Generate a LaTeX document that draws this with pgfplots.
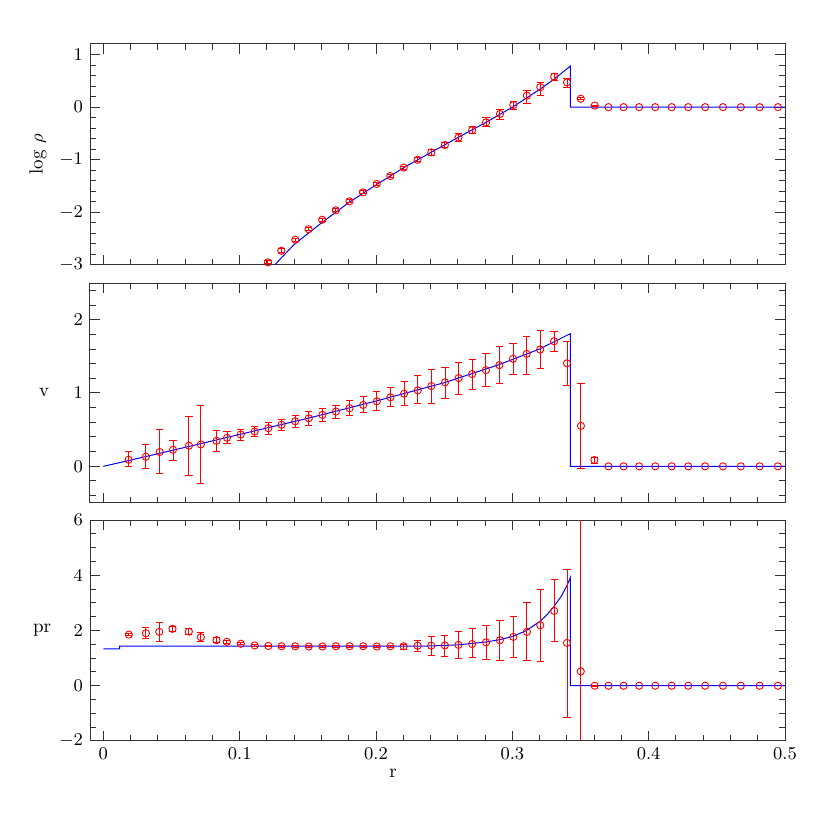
\documentclass[border=0pt]{standalone}
\usepackage{pgfplots}
\pgfplotsset{compat=1.18}
\pgfplotsset{
  panel/.style={
    scale only axis, width=347.5pt,
    xmin=-0.0098, xmax=0.5,
    xtick={0,0.1,0.2,0.3,0.4,0.5},
    minor xtick={0.02,0.04,0.06,0.08,0.12,0.14,0.16,0.18,0.22,0.24,0.26,0.28,0.32,0.34,0.36,0.38,0.42,0.44,0.46,0.48},
    tick align=inside, major tick length=5pt, minor tick length=2.8pt,
    every tick/.style={black!80, line width=0.5pt},
    axis line style={black!80, line width=0.5pt},
    tick label style={font=\fontsize{9}{10}\selectfont},
    label style={font=\fontsize{9.5}{11}\selectfont},
    anchor=south west,
  },
  errpts/.style={only marks, red, mark=o, mark size=1.8pt, mark options={line width=0.45pt},
    error bars/.cd, y dir=both, y explicit,
    error bar style={red, line width=0.5pt},
    error mark options={rotate=90, red, mark size=1.8pt, line width=0.5pt}},
  pts/.style={only marks, red, mark=o, mark size=1.8pt, mark options={line width=0.45pt}},
  model/.style={blue, line width=0.5pt, mark=none},
}
\begin{document}
\begin{tikzpicture}
\useasboundingbox (-45pt,-44.5pt) rectangle (370pt,370.5pt);
% ---------------- log rho ----------------
\begin{axis}[panel, at={(0pt,238pt)}, height=110.5pt,
  ymin=-3, ymax=1.2, ytick={-3,-2,-1,0,1},
  minor ytick={-2.8,-2.6,-2.4,-2.2,-1.8,-1.6,-1.4,-1.2,-0.8,-0.6,-0.4,-0.2,0.2,0.4,0.6,0.8},
  xticklabel=\empty,
  ylabel={log $\rho$},
  ylabel style={at={(axis description cs:-0.075,0.5)}, anchor=center}]
\addplot[model] coordinates {
(0.1256,-3.00) (0.1403,-2.60) (0.1605,-2.19) (0.1805,-1.805) (0.2005,-1.47)
(0.2203,-1.15) (0.2403,-0.86) (0.2603,-0.575) (0.2806,-0.29) (0.3001,0.00)
(0.3197,0.33) (0.3300,0.52) (0.3426,0.78) (0.3426,0) (0.5,0)};
\addplot[errpts] table[x index=0, y index=1, y error plus index=2, y error minus index=3] {
0.1207 -2.95 0.03 0.03
0.1305 -2.73 0.04 0.04
0.1408 -2.52 0.03 0.03
0.1505 -2.32 0.03 0.03
0.1605 -2.14 0.03 0.03
0.1705 -1.96 0.03 0.03
0.1805 -1.79 0.03 0.03
0.1905 -1.62 0.03 0.03
0.2005 -1.46 0.03 0.03
0.2105 -1.31 0.03 0.03
0.2203 -1.15 0.03 0.03
0.2305 -1.00 0.04 0.04
0.2405 -0.86 0.05 0.05
0.2505 -0.72 0.05 0.05
0.2605 -0.58 0.07 0.07
0.2705 -0.44 0.07 0.07
0.2807 -0.29 0.09 0.08
0.2909 -0.13 0.09 0.10
0.3007 0.04 0.07 0.09
0.3107 0.22 0.10 0.16
0.3205 0.38 0.09 0.15
0.3307 0.58 0.05 0.07
0.3401 0.47 0.08 0.09
0.3502 0.16 0.02 0.02
0.3604 0.03 0.01 0.01
};
\addplot[pts] coordinates {(0.3705,0) (0.3816,0) (0.3930,0) (0.4048,0) (0.4169,0) (0.4290,0) (0.4414,0) (0.4545,0) (0.4676,0) (0.4814,0) (0.4948,0)};
\end{axis}
% ---------------- v ----------------
\begin{axis}[panel, at={(0pt,119pt)}, height=110pt,
  ymin=-0.5, ymax=2.5, ytick={0,1,2},
  minor ytick={-0.4,-0.2,0.2,0.4,0.6,0.8,1.2,1.4,1.6,1.8,2.2,2.4},
  xticklabel=\empty,
  ylabel={v},
  ylabel style={at={(axis description cs:-0.066,0.5)}, anchor=center, rotate=-90}]
\addplot[model] coordinates {
(0,0) (0.02,0.085) (0.05,0.215) (0.10,0.435) (0.15,0.655) (0.20,0.89)
(0.25,1.14) (0.29,1.385) (0.32,1.60) (0.3426,1.81) (0.3426,0) (0.5,0)};
\addplot[errpts] table[x index=0, y index=1, y error plus index=2, y error minus index=3] {
0.0185 0.090 0.114 0.099
0.0312 0.131 0.172 0.167
0.0413 0.195 0.303 0.299
0.0511 0.226 0.131 0.140
0.0628 0.281 0.402 0.412
0.0715 0.299 0.529 0.534
0.0830 0.348 0.141 0.140
0.0907 0.389 0.086 0.081
0.1008 0.434 0.073 0.077
0.1110 0.475 0.068 0.068
0.1210 0.520 0.077 0.081
0.1307 0.566 0.072 0.077
0.1407 0.615 0.082 0.086
0.1507 0.656 0.091 0.095
0.1607 0.701 0.091 0.090
0.1706 0.747 0.081 0.095
0.1806 0.792 0.104 0.104
0.1906 0.837 0.109 0.104
0.2006 0.887 0.136 0.131
0.2106 0.941 0.131 0.127
0.2206 0.991 0.167 0.163
0.2306 1.036 0.199 0.185
0.2406 1.095 0.226 0.235
0.2506 1.145 0.203 0.217
0.2606 1.204 0.212 0.222
0.2705 1.258 0.199 0.208
0.2806 1.312 0.222 0.217
0.2905 1.380 0.258 0.249
0.3005 1.466 0.208 0.217
0.3105 1.534 0.240 0.285
0.3204 1.593 0.258 0.258
0.3306 1.706 0.127 0.145
0.3401 1.405 0.295 0.300
0.3503 0.552 0.575 0.588
0.3602 0.086 0.041 0.041
};
\addplot[pts] coordinates {(0.3705,0) (0.3816,0) (0.3930,0) (0.4048,0) (0.4169,0) (0.4290,0) (0.4414,0) (0.4545,0) (0.4676,0) (0.4814,0) (0.4948,0)};
\end{axis}
% ---------------- pr ----------------
\begin{axis}[panel, at={(0pt,0pt)}, height=110.5pt,
  ymin=-2, ymax=6, ytick={-2,0,2,4,6},
  minor ytick={-1.5,-1,-0.5,0.5,1,1.5,2.5,3,3.5,4.5,5,5.5},
  ylabel={pr},
  ylabel style={at={(axis description cs:-0.069,0.5)}, anchor=center, rotate=-90},
  xlabel={r},
  xlabel style={at={(axis description cs:0.436,-0.145)}, anchor=center}]
\addplot[model] coordinates {
(0,1.335) (0.012,1.335) (0.012,1.43) (0.22,1.43) (0.24,1.44) (0.25,1.46)
(0.26,1.48) (0.27,1.53) (0.28,1.58) (0.29,1.66) (0.30,1.78) (0.31,1.99)
(0.32,2.32) (0.325,2.55) (0.33,2.83) (0.336,3.25) (0.34,3.62) (0.3426,3.92)
(0.3426,0) (0.5,0)};
\addplot[errpts] table[x index=0, y index=1, y error plus index=2, y error minus index=3] {
0.0187 1.85 0.04 0.04
0.0312 1.90 0.20 0.20
0.0410 1.95 0.33 0.34
0.0507 2.06 0.10 0.11
0.0627 1.96 0.11 0.12
0.0715 1.76 0.17 0.17
0.0830 1.65 0.08 0.08
0.0905 1.59 0.05 0.05
0.1008 1.52 0.04 0.04
0.1110 1.46 0.03 0.03
0.1210 1.44 0.03 0.03
0.1307 1.43 0.03 0.03
0.1407 1.43 0.03 0.03
0.1507 1.42 0.03 0.03
0.1607 1.42 0.03 0.03
0.1706 1.43 0.03 0.03
0.1806 1.43 0.03 0.03
0.1906 1.43 0.03 0.03
0.2006 1.42 0.03 0.03
0.2106 1.43 0.04 0.04
0.2203 1.43 0.07 0.10
0.2305 1.45 0.19 0.22
0.2405 1.45 0.32 0.35
0.2505 1.46 0.37 0.39
0.2605 1.48 0.49 0.50
0.2705 1.51 0.55 0.50
0.2807 1.57 0.61 0.62
0.2909 1.65 0.73 0.74
0.3007 1.77 0.74 0.76
0.3107 1.95 1.06 1.03
0.3205 2.19 1.30 1.31
0.3307 2.71 1.12 1.12
0.3401 1.55 2.67 2.69
0.3502 0.52 10 10
0.3604 0.00 0.01 0.01
};
\addplot[pts] coordinates {(0.3705,0) (0.3816,0) (0.3930,0) (0.4048,0) (0.4169,0) (0.4290,0) (0.4414,0) (0.4545,0) (0.4676,0) (0.4814,0) (0.4948,0)};
\end{axis}
\end{tikzpicture}
\end{document}
